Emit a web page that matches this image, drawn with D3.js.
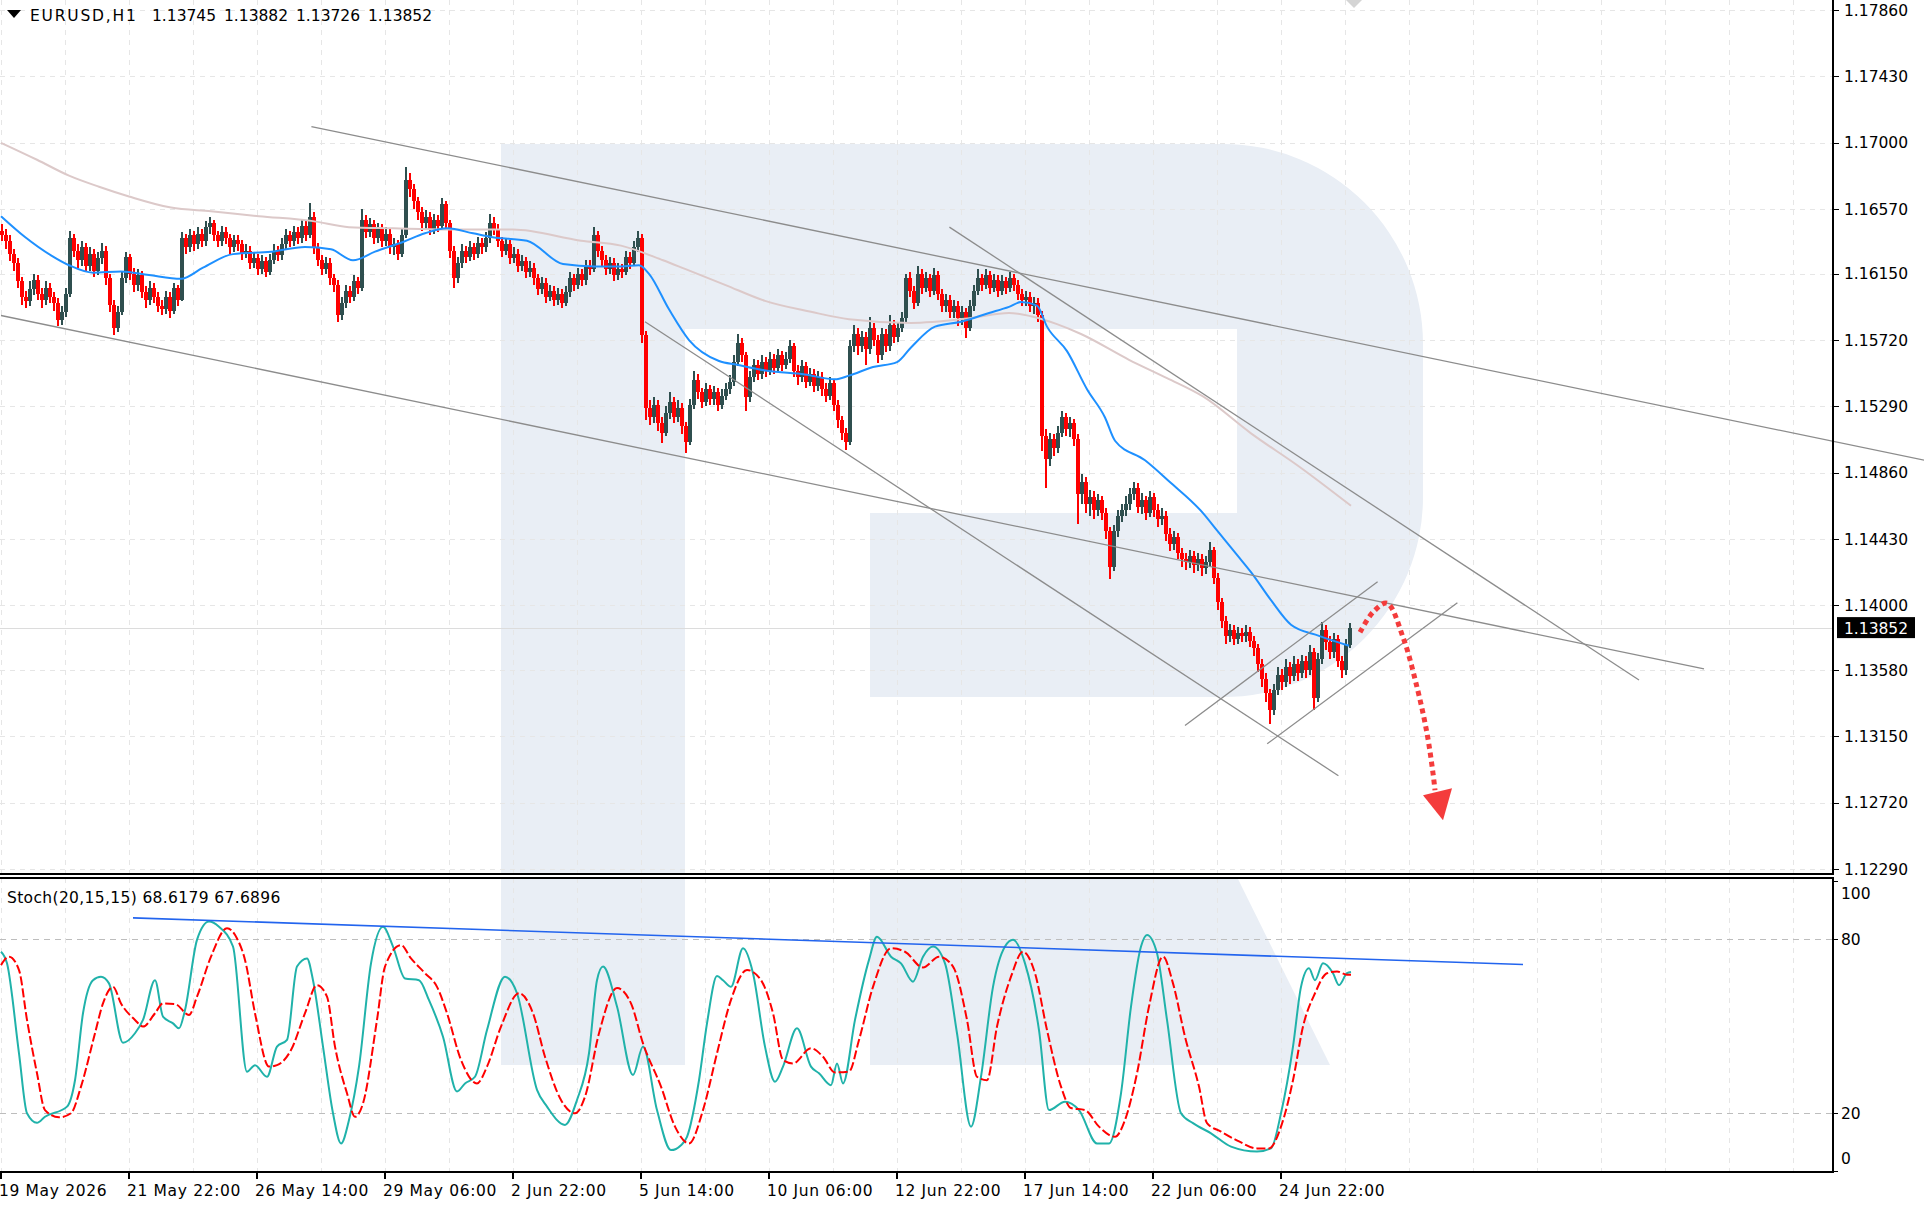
<!DOCTYPE html>
<html>
<head>
<meta charset="utf-8">
<script src="https://cdn.jsdelivr.net/npm/d3@7"></script>
<style>
html, body { margin: 0; padding: 0; background: #fff; }
svg { display: block; font-family: "DejaVu Sans", sans-serif; }
</style>
</head>
<body>
<div id="chart"></div>
<script>
// ---- data ----
var symbolName = 'EURUSD,H1';
var lastBarOHLC = [1.13745, 1.13882, 1.13726, 1.13852];
var stochTitle = 'Stoch(20,15,15) 68.6179 67.6896';
var lastPrice = 1.13852;

var priceTicks = [1.12290, 1.12720, 1.13150, 1.13580, 1.14000, 1.14430, 1.14860,
  1.15290, 1.15720, 1.16150, 1.16570, 1.17000, 1.17430, 1.17860];
var stochLevels = [20, 80];
var stochTickLabels = [0, 20, 80, 100];

var dateLabels = ['19 May 2026', '21 May 22:00', '26 May 14:00', '29 May 06:00', '2 Jun 22:00',
  '5 Jun 14:00', '10 Jun 06:00', '12 Jun 22:00', '17 Jun 14:00', '22 Jun 06:00', '24 Jun 22:00'];
var dateTickBars = [0, 64, 128, 192, 256, 320, 384, 448, 512, 576, 640];

// candles, two H1 bars each; open = previous close
var candleOpen0 = 1.1643;
var candleClose = [
  1.1640,1.1636,1.1628,1.1622,1.1610,1.1600,1.1597,1.1605,1.1611,1.1602,
  1.1598,1.1606,1.1600,1.1596,1.1585,1.1590,1.1602,1.1638,1.1630,1.1624,
  1.1632,1.1620,1.1628,1.1617,1.1625,1.1630,1.1612,1.1595,1.1580,1.1590,
  1.1612,1.1626,1.1615,1.1608,1.1614,1.1603,1.1598,1.1606,1.1600,1.1594,
  1.1592,1.1600,1.1591,1.1606,1.1598,1.1638,1.1632,1.1640,1.1634,1.1641,
  1.1636,1.1645,1.1648,1.1640,1.1636,1.1642,1.1638,1.1632,1.1637,1.1634,
  1.1628,1.1630,1.1622,1.1625,1.1618,1.1623,1.1616,1.1624,1.1630,1.1627,
  1.1634,1.1640,1.1636,1.1642,1.1638,1.1646,1.1640,1.1652,1.1632,1.1624,
  1.1618,1.1622,1.1612,1.1608,1.1588,1.1596,1.1604,1.1600,1.1610,1.1606,
  1.1650,1.1642,1.1647,1.1638,1.1644,1.1636,1.1641,1.1632,1.1634,1.1628,
  1.1640,1.1676,1.1670,1.1662,1.1655,1.1648,1.1652,1.1644,1.1650,1.1646,
  1.1660,1.1648,1.1630,1.1612,1.1622,1.1630,1.1626,1.1632,1.1628,1.1635,
  1.1632,1.1638,1.1648,1.1644,1.1636,1.1630,1.1634,1.1625,1.1628,1.1620,
  1.1623,1.1616,1.1619,1.1612,1.1605,1.1609,1.1600,1.1604,1.1598,1.1602,
  1.1596,1.1603,1.1612,1.1608,1.1615,1.1611,1.1620,1.1618,1.1640,1.1630,
  1.1624,1.1618,1.1622,1.1614,1.1618,1.1616,1.1626,1.1622,1.1632,1.1638,
  1.1575,1.1528,1.1522,1.1530,1.1518,1.1512,1.1525,1.1532,1.1522,1.1528,
  1.1516,1.1506,1.1530,1.1546,1.1538,1.1532,1.1540,1.1534,1.1538,1.1530,
  1.1536,1.1540,1.1545,1.1558,1.1570,1.1562,1.1535,1.1548,1.1556,1.1550,
  1.1558,1.1552,1.1560,1.1554,1.1562,1.1556,1.1560,1.1568,1.1552,1.1548,
  1.1555,1.1545,1.1550,1.1542,1.1548,1.1540,1.1536,1.1544,1.1530,1.1520,
  1.1512,1.1506,1.1568,1.1576,1.1568,1.1574,1.1566,1.1580,1.1572,1.1562,
  1.1576,1.1568,1.1582,1.1574,1.1580,1.1586,1.1612,1.1604,1.1596,1.1615,
  1.1606,1.1612,1.1604,1.1614,1.1602,1.1594,1.1598,1.1590,1.1594,1.1586,
  1.1590,1.1580,1.1594,1.1604,1.1612,1.1608,1.1614,1.1606,1.1611,1.1604,
  1.1610,1.1606,1.1612,1.1608,1.1602,1.1598,1.1600,1.1594,1.1596,1.1588,
  1.1510,1.1495,1.1508,1.1502,1.1512,1.1522,1.1514,1.1518,1.1508,1.1472,
  1.1480,1.1466,1.1470,1.1462,1.1468,1.1460,1.1448,1.1425,1.1448,1.1458,
  1.1462,1.1466,1.1472,1.1476,1.1464,1.1468,1.1460,1.1470,1.1462,1.1456,
  1.1458,1.1446,1.1440,1.1444,1.1434,1.1430,1.1428,1.1432,1.1426,1.1430,
  1.1424,1.1428,1.1436,1.1418,1.1402,1.1390,1.1380,1.1384,1.1378,1.1382,
  1.1380,1.1383,1.1377,1.1372,1.1362,1.1352,1.1343,1.1332,1.1345,1.1355,
  1.1350,1.1360,1.1354,1.1362,1.1356,1.1364,1.1358,1.1370,1.1340,1.1365,
  1.1384,1.1376,1.1370,1.1378,1.1364,1.1358,1.13745,1.13852
];
var candleHigh = [
  1.1647,1.1644,1.1640,1.1631,1.1625,1.1613,1.1604,1.1610,1.1615,1.1614,
  1.1606,1.1610,1.1609,1.1603,1.1599,1.1594,1.1606,1.1643,1.1641,1.1634,
  1.1636,1.1635,1.1632,1.1631,1.1629,1.1635,1.1633,1.1615,1.1598,1.1594,
  1.1616,1.1629,1.1628,1.1619,1.1618,1.1617,1.1607,1.1610,1.1609,1.1603,
  1.1598,1.1604,1.1603,1.1609,1.1608,1.1642,1.1641,1.1644,1.1643,1.1645,
  1.1644,1.1649,1.1652,1.1650,1.1643,1.1646,1.1645,1.1641,1.1640,1.1640,
  1.1637,1.1634,1.1633,1.1629,1.1628,1.1627,1.1626,1.1628,1.1634,1.1633,
  1.1638,1.1644,1.1643,1.1646,1.1645,1.1650,1.1649,1.1661,1.1655,1.1635,
  1.1627,1.1626,1.1625,1.1615,1.1611,1.1600,1.1608,1.1607,1.1614,1.1613,
  1.1657,1.1653,1.1651,1.1650,1.1648,1.1647,1.1645,1.1644,1.1638,1.1637,
  1.1644,1.1684,1.1680,1.1673,1.1665,1.1658,1.1656,1.1655,1.1654,1.1653,
  1.1664,1.1662,1.1650,1.1633,1.1626,1.1634,1.1633,1.1636,1.1635,1.1639,
  1.1638,1.1642,1.1654,1.1652,1.1647,1.1639,1.1638,1.1637,1.1632,1.1631,
  1.1627,1.1626,1.1623,1.1622,1.1615,1.1613,1.1612,1.1608,1.1607,1.1606,
  1.1605,1.1607,1.1616,1.1615,1.1619,1.1618,1.1624,1.1624,1.1645,1.1643,
  1.1633,1.1627,1.1626,1.1625,1.1622,1.1621,1.1630,1.1629,1.1636,1.1643,
  1.1641,1.1578,1.1533,1.1535,1.1533,1.1522,1.1529,1.1538,1.1535,1.1533,
  1.1531,1.1519,1.1534,1.1552,1.1550,1.1541,1.1544,1.1543,1.1542,1.1541,
  1.1540,1.1544,1.1549,1.1562,1.1576,1.1573,1.1564,1.1552,1.1560,1.1559,
  1.1562,1.1561,1.1564,1.1563,1.1566,1.1565,1.1564,1.1572,1.1570,1.1556,
  1.1559,1.1558,1.1554,1.1553,1.1552,1.1551,1.1544,1.1548,1.1547,1.1533,
  1.1523,1.1515,1.1572,1.1582,1.1580,1.1578,1.1577,1.1587,1.1583,1.1575,
  1.1580,1.1579,1.1588,1.1585,1.1584,1.1590,1.1615,1.1616,1.1607,1.1620,
  1.1618,1.1616,1.1615,1.1619,1.1617,1.1605,1.1602,1.1601,1.1598,1.1597,
  1.1594,1.1593,1.1598,1.1608,1.1618,1.1615,1.1618,1.1617,1.1615,1.1614,
  1.1614,1.1613,1.1616,1.1615,1.1611,1.1605,1.1604,1.1603,1.1600,1.1599,
  1.1591,1.1514,1.1512,1.1511,1.1516,1.1526,1.1525,1.1522,1.1521,1.1511,
  1.1485,1.1483,1.1475,1.1474,1.1472,1.1471,1.1463,1.1451,1.1452,1.1462,
  1.1466,1.1471,1.1476,1.1480,1.1479,1.1473,1.1471,1.1474,1.1473,1.1466,
  1.1463,1.1461,1.1450,1.1448,1.1447,1.1437,1.1434,1.1436,1.1435,1.1434,
  1.1433,1.1432,1.1441,1.1438,1.1421,1.1405,1.1393,1.1388,1.1387,1.1386,
  1.1385,1.1387,1.1386,1.1380,1.1375,1.1365,1.1356,1.1346,1.1349,1.1360,
  1.1359,1.1365,1.1363,1.1367,1.1365,1.1368,1.1367,1.1374,1.1372,1.1369,
  1.1389,1.1387,1.1380,1.1382,1.1381,1.1367,1.1378,1.13882
];
var candleLow = [
  1.1636,1.1631,1.1623,1.1617,1.1606,1.1595,1.1593,1.1594,1.1601,1.1598,
  1.1593,1.1595,1.1596,1.1591,1.1581,1.1582,1.1587,1.1600,1.1626,1.1619,
  1.1620,1.1616,1.1617,1.1613,1.1614,1.1621,1.1608,1.1590,1.1575,1.1577,
  1.1588,1.1609,1.1611,1.1603,1.1604,1.1599,1.1593,1.1595,1.1596,1.1590,
  1.1588,1.1589,1.1586,1.1589,1.1594,1.1597,1.1628,1.1629,1.1630,1.1631,
  1.1632,1.1633,1.1641,1.1636,1.1632,1.1633,1.1634,1.1628,1.1629,1.1630,
  1.1624,1.1625,1.1618,1.1619,1.1614,1.1615,1.1613,1.1614,1.1621,1.1623,
  1.1624,1.1631,1.1632,1.1633,1.1634,1.1635,1.1636,1.1638,1.1628,1.1620,
  1.1614,1.1615,1.1608,1.1603,1.1584,1.1585,1.1593,1.1596,1.1597,1.1602,
  1.1604,1.1638,1.1639,1.1634,1.1635,1.1632,1.1633,1.1628,1.1627,1.1624,
  1.1626,1.1638,1.1665,1.1657,1.1650,1.1643,1.1644,1.1640,1.1641,1.1642,
  1.1644,1.1644,1.1625,1.1606,1.1609,1.1619,1.1622,1.1623,1.1624,1.1625,
  1.1628,1.1629,1.1635,1.1640,1.1632,1.1626,1.1627,1.1621,1.1622,1.1616,
  1.1617,1.1612,1.1613,1.1608,1.1601,1.1602,1.1596,1.1597,1.1594,1.1595,
  1.1593,1.1594,1.1600,1.1604,1.1605,1.1607,1.1608,1.1614,1.1616,1.1626,
  1.1620,1.1614,1.1615,1.1610,1.1611,1.1612,1.1614,1.1618,1.1620,1.1629,
  1.1570,1.1520,1.1517,1.1518,1.1513,1.1505,1.1510,1.1521,1.1518,1.1519,
  1.1511,1.1499,1.1504,1.1527,1.1534,1.1528,1.1529,1.1530,1.1530,1.1526,
  1.1527,1.1533,1.1537,1.1542,1.1555,1.1558,1.1526,1.1532,1.1545,1.1546,
  1.1547,1.1548,1.1549,1.1550,1.1551,1.1552,1.1553,1.1557,1.1548,1.1543,
  1.1545,1.1541,1.1542,1.1538,1.1539,1.1536,1.1532,1.1533,1.1526,1.1515,
  1.1507,1.1501,1.1504,1.1564,1.1562,1.1564,1.1556,1.1563,1.1568,1.1557,
  1.1559,1.1564,1.1565,1.1570,1.1571,1.1577,1.1584,1.1600,1.1592,1.1594,
  1.1602,1.1603,1.1600,1.1601,1.1598,1.1590,1.1590,1.1586,1.1586,1.1581,
  1.1582,1.1573,1.1578,1.1591,1.1601,1.1604,1.1605,1.1602,1.1603,1.1600,
  1.1601,1.1602,1.1603,1.1604,1.1598,1.1594,1.1594,1.1590,1.1589,1.1584,
  1.1500,1.1476,1.1490,1.1497,1.1499,1.1509,1.1510,1.1509,1.1503,1.1453,
  1.1466,1.1460,1.1458,1.1456,1.1458,1.1455,1.1443,1.1417,1.1422,1.1444,
  1.1454,1.1458,1.1462,1.1468,1.1460,1.1459,1.1455,1.1457,1.1457,1.1451,
  1.1452,1.1442,1.1435,1.1436,1.1430,1.1425,1.1423,1.1424,1.1421,1.1422,
  1.1419,1.1420,1.1425,1.1414,1.1397,1.1385,1.1375,1.1376,1.1374,1.1375,
  1.1376,1.1376,1.1373,1.1367,1.1357,1.1347,1.1337,1.1323,1.1329,1.1342,
  1.1345,1.1347,1.1349,1.1351,1.1351,1.1353,1.1353,1.1355,1.1332,1.1337,
  1.1362,1.1371,1.1365,1.1366,1.1360,1.1353,1.1355,1.13726
];

// moving averages: [bar index, price]
var maFast = [[0,1.16523],[12,1.16388],[25,1.16269],[34,1.16205],[46,1.16157],[60,1.16165],
  [74,1.16141],[90,1.16117],[101,1.16189],[116,1.16277],[135,1.16293],[152,1.16324],
  [165,1.16308],[176,1.16237],[187,1.16293],[201,1.16356],[212,1.16412],[223,1.16444],
  [236,1.16412],[245,1.16388],[263,1.16364],[281,1.16213],[297,1.16197],[310,1.16197],
  [319,1.16205],[324,1.16149],[334,1.15919],[344,1.15720],[359,1.15584],[368,1.15560],
  [383,1.15521],[402,1.15497],[417,1.15465],[424,1.15489],[436,1.15545],[448,1.15577],
  [455,1.15672],[467,1.15807],[480,1.15839],[494,1.15895],[504,1.15935],[510,1.15966],
  [518,1.15943],[523,1.15807],[533,1.15648],[543,1.15401],[552,1.15218],[557,1.15067],
  [572,1.14940],[584,1.14804],[601,1.14598],[608,1.14486],[618,1.14327],[625,1.14215],
  [635,1.14033],[645,1.13874],[659,1.13802],[674,1.13738]];
var maSlow = [[0,1.16999],[18,1.16889],[34,1.16786],[49,1.16714],[64,1.16651],[85,1.16579],
  [105,1.16555],[129,1.16523],[156,1.16491],[174,1.16452],[196,1.16444],[223,1.16436],
  [256,1.16436],[290,1.16364],[310,1.16332],[331,1.16237],[342,1.16181],[362,1.16078],
  [382,1.15974],[405,1.15903],[424,1.15855],[455,1.15831],[485,1.15863],[504,1.15895],
  [516,1.15871],[528,1.15823],[540,1.15759],[564,1.15592],[583,1.15473],[601,1.15354],
  [625,1.15115],[649,1.14900],[675,1.14645]];

// stochastic %K and %D: [bar index, value]
var stochK = [[0,75.6],[3,71.6],[9,40.6],[13,19.9],[18,16.6],[22,18.7],[33,22.2],[37,31.3],
  [41,54.4],[46,65.8],[50,67],[54,64.7],[61,44.2],[67,47.5],[71,52.1],[77,65.8],[81,53.2],
  [86,50.9],[89,49.2],[92,55.5],[98,79.7],[104,86],[109,84.2],[116,77.4],[123,34.2],
  [127,36.5],[133,32.5],[138,42.9],[143,45.2],[148,70.5],[153,73.3],[156,65.8],[161,42.9],
  [166,19.9],[170,9.5],[174,17.6],[179,36],[185,71.6],[191,84.2],[196,77.4],[202,66.4],
  [209,65.8],[214,58.9],[221,46.3],[228,27.4],[232,30.2],[237,32.5],[243,48.6],[252,67],
  [258,61.3],[268,28],[273,22.2],[282,15.9],[288,24.5],[294,40.6],[298,65.8],[301,70.5],
  [308,56.7],[316,33.1],[321,42.9],[328,21],[335,7.2],[340,8.9],[343,11.8],[349,31.3],
  [353,50.9],[358,67.2],[361,65.8],[365,63.5],[371,76.8],[376,68.2],[382,42.9],[387,30.8],
  [391,36],[398,49.2],[405,36],[409,33.7],[415,29.6],[418,37.1],[421,30.2],[427,52.1],
  [434,72.8],[438,80.8],[445,73.9],[450,71.6],[456,65.3],[461,73.9],[466,77.4],[472,71.6],
  [478,47.5],[485,15.3],[490,32.5],[496,63.5],[502,77.4],[506,79.7],[512,71.6],[519,48.6],
  [524,21],[532,23.9],[539,21],[548,9.5],[554,9.5],[560,26.8],[565,56.7],[570,77.4],
  [573,81.4],[578,75.1],[583,52.1],[590,19.9],[596,16.5],[605,13],[615,8.4],[628,6.7],
  [635,7.8],[640,19.9],[646,42.9],[650,63.5],[654,69.9],[657,65.8],[661,71.6],[666,68.2],
  [669,64.1],[673,68.2],[675,68.6179]];
var stochD = [[0,71],[4,73.9],[9,69.3],[13,52.1],[18,33.7],[22,21],[29,18.5],[35,19.9],
  [40,29.1],[47,47.5],[51,57.8],[56,63.5],[60,57.8],[67,52.1],[71,49.8],[77,54.4],[81,57.8],
  [87,57.6],[94,53.8],[98,60.1],[105,73.9],[113,83.7],[118,80.2],[122,72.8],[127,54.4],
  [134,36],[138,36.5],[145,41.7],[152,54.4],[158,64.1],[163,60.1],[167,42.9],[173,26.8],
  [177,18.7],[181,23.3],[188,52.1],[192,70.5],[200,77.9],[205,73.3],[212,68.2],[218,63.5],
  [223,54.4],[230,38.3],[238,30.2],[243,36],[250,49.8],[259,61.3],[266,54.4],[272,39.4],
  [280,24.5],[287,19.9],[292,25.6],[299,47.5],[308,63.1],[315,57.8],[321,44],[330,29.1],
  [337,15.3],[344,9.5],[351,21],[358,40.6],[365,59],[373,69.3],[380,65.8],[386,54.4],
  [391,38.3],[396,37.1],[405,42.3],[411,39.4],[417,34],[424,34.3],[429,45.2],[436,63.5],
  [445,76.8],[452,75.6],[461,70.2],[469,73.9],[476,70.5],[483,52.1],[488,32.5],[493,31.3],
  [498,49.8],[505,67],[511,75.6],[517,68.2],[523,48.6],[530,29.1],[535,21.7],[542,21],
  [549,15.3],[557,11.8],[562,17.6],[568,33.7],[574,56.7],[581,73.9],[586,64.7],[592,46.3],
  [599,29.1],[603,16.5],[610,13.6],[619,10.2],[628,7.8],[634,7.8],[640,15.3],[646,31.3],
  [651,49.8],[657,61.3],[663,68.2],[668,68.8],[673,67.7],[675,67.6896]];

// drawn objects: [bar, price] end points
var priceLines = [
  {from: [155.2, 1.17104], to: [962, 1.14940], ray: true},
  {from: [0, 1.15879], to: [851.5, 1.13587]},
  {from: [474.2, 1.16452], to: [819, 1.13515]},
  {from: [322, 1.15839], to: [668.7, 1.12895]},
  {from: [592, 1.13221], to: [688.3, 1.14152]},
  {from: [633.1, 1.13102], to: [728.2, 1.14017]}
];
var stochLine = {from: [66, 87.3], to: [761, 71.2]};
var forecastPath = [[679.5,1.13825],[686,1.13955],[693,1.14013],[701,1.13793],
  [708,1.13469],[713,1.13170],[716,1.12911],[717,1.12801]];
var forecastHead = [[711,1.12768],[725.5,1.12814],[721,1.12606]];

// ---- layout ----
var W = 1924, H = 1211;
var axisX = 1833;
var mainBottom = 874, subTop = 878, subBottom = 1172;

var x = d3.scaleLinear().domain([0, 960]).range([1, 1921]);
var y = d3.scaleLinear().domain([1.12290, 1.17860]).range([869, 10]);
var ys = d3.scaleLinear().domain([0, 100]).range([1171, 881]);

var svg = d3.select('#chart').append('svg')
    .attr('width', W)
    .attr('height', H);

svg.append('rect').attr('width', W).attr('height', H).attr('fill', '#fff');

var defs = svg.append('defs');
defs.append('clipPath').attr('id', 'clipMain')
  .append('rect').attr('x', 0).attr('y', 0).attr('width', axisX).attr('height', mainBottom);
defs.append('clipPath').attr('id', 'clipMainWide')
  .append('rect').attr('x', 0).attr('y', 0).attr('width', W).attr('height', mainBottom);
defs.append('clipPath').attr('id', 'clipSub')
  .append('rect').attr('x', 0).attr('y', subTop + 1).attr('width', axisX).attr('height', subBottom - subTop - 2);

// watermark logo
var logoFill = '#e9eef5';
svg.append('path')
  .attr('fill', logoFill)
  .attr('fill-rule', 'evenodd')
  .attr('d', 'M501,144 H1223 A200,200 0 0 1 1423,344 V497 A200,200 0 0 1 1223,697 H870 V513 H685 V' + mainBottom +
    ' H501 Z M685,329 H1237 V513 H685 Z');
svg.append('rect').attr('fill', logoFill)
  .attr('x', 501).attr('y', subTop + 1).attr('width', 184).attr('height', 1065 - subTop - 1);
svg.append('path').attr('fill', logoFill)
  .attr('d', 'M870,' + (subTop + 1) + ' L1238,' + (subTop + 1) + ' L1330,1065 L870,1065 Z');

// grid
var gridColor = '#e6e6e6';
var vgrid = d3.range(0, 960, 32).filter(function(b) { return x(b) < axisX; });
svg.append('g').selectAll('line').data(vgrid).enter().append('line')
  .attr('x1', function(d) { return x(d) + 0.5; })
  .attr('x2', function(d) { return x(d) + 0.5; })
  .attr('y1', 0).attr('y2', mainBottom)
  .attr('stroke', gridColor).attr('stroke-dasharray', '5,5');
svg.append('g').selectAll('line').data(vgrid).enter().append('line')
  .attr('x1', function(d) { return x(d) + 0.5; })
  .attr('x2', function(d) { return x(d) + 0.5; })
  .attr('y1', subTop).attr('y2', subBottom)
  .attr('stroke', gridColor).attr('stroke-dasharray', '5,5');
svg.append('g').selectAll('line').data(priceTicks).enter().append('line')
  .attr('x1', 0).attr('x2', axisX)
  .attr('y1', function(d) { return Math.round(y(d)) + 0.5; })
  .attr('y2', function(d) { return Math.round(y(d)) + 0.5; })
  .attr('stroke', gridColor).attr('stroke-dasharray', '5,5');

// bid line
svg.append('line')
  .attr('x1', 0).attr('x2', axisX)
  .attr('y1', Math.round(y(lastPrice)) + 0.5).attr('y2', Math.round(y(lastPrice)) + 0.5)
  .attr('stroke', '#dcdcdc');

// candles
var candles = candleClose.map(function(c, j) {
  return {j: j, o: j ? candleClose[j - 1] : candleOpen0, h: candleHigh[j], l: candleLow[j], c: c};
});
var bullColor = '#2f4f4f', bearColor = '#ff0000';
var gCandles = svg.append('g').attr('clip-path', 'url(#clipMain)').attr('shape-rendering', 'crispEdges');
gCandles.selectAll('rect.wick').data(candles).enter().append('rect')
  .attr('class', 'wick')
  .attr('x', function(d) { return x(2 * d.j); })
  .attr('width', 2)
  .attr('y', function(d) { return y(d.h); })
  .attr('height', function(d) { return Math.max(1, y(d.l) - y(d.h)); })
  .attr('fill', function(d) { return d.c >= d.o ? bullColor : bearColor; });
gCandles.selectAll('rect.body').data(candles).enter().append('rect')
  .attr('class', 'body')
  .attr('x', function(d) { return x(2 * d.j) - 1; })
  .attr('width', 4)
  .attr('y', function(d) { return y(Math.max(d.o, d.c)); })
  .attr('height', function(d) { return Math.max(1.5, Math.abs(y(d.o) - y(d.c))); })
  .attr('fill', function(d) { return d.c >= d.o ? bullColor : bearColor; });

// moving averages
var priceLine = d3.line()
  .x(function(d) { return x(d[0]); })
  .y(function(d) { return y(d[1]); })
  .curve(d3.curveMonotoneX);
var gMa = svg.append('g').attr('clip-path', 'url(#clipMain)').attr('fill', 'none');
gMa.append('path').datum(maSlow).attr('d', priceLine)
  .attr('stroke', '#dcc9c9').attr('stroke-width', 2);
gMa.append('path').datum(maFast).attr('d', priceLine)
  .attr('stroke', '#1e90ff').attr('stroke-width', 2);

// trend lines
var gObj = svg.append('g').attr('clip-path', 'url(#clipMainWide)');
gObj.selectAll('line').data(priceLines).enter().append('line')
  .attr('x1', function(d) { return x(d.from[0]); })
  .attr('y1', function(d) { return y(d.from[1]); })
  .attr('x2', function(d) {
    if (!d.ray) return x(d.to[0]);
    return x(d.to[0]) + (x(d.to[0]) - x(d.from[0])) * 3;
  })
  .attr('y2', function(d) {
    if (!d.ray) return y(d.to[1]);
    return y(d.to[1]) + (y(d.to[1]) - y(d.from[1])) * 3;
  })
  .attr('stroke', '#8c8c8c').attr('stroke-width', 1.3);

// forecast arrow
gObj.append('path').datum(forecastPath)
  .attr('d', d3.line()
    .x(function(d) { return x(d[0]); })
    .y(function(d) { return y(d[1]); })
    .curve(d3.curveCatmullRom))
  .attr('fill', 'none').attr('stroke', '#f43c3c').attr('stroke-width', 5)
  .attr('stroke-dasharray', '5,4');
gObj.append('path').datum(forecastHead)
  .attr('d', function(d) {
    return 'M' + d.map(function(p) { return x(p[0]) + ',' + y(p[1]); }).join('L') + 'Z';
  })
  .attr('fill', '#f43c3c');

// chart shift marker
svg.append('path').attr('d', 'M1346,0 L1362,0 L1354,8 Z').attr('fill', '#d4d4d4');

// stochastic panel
svg.append('g').selectAll('line').data(stochLevels).enter().append('line')
  .attr('x1', 0).attr('x2', axisX)
  .attr('y1', function(d) { return Math.round(ys(d)) + 0.5; })
  .attr('y2', function(d) { return Math.round(ys(d)) + 0.5; })
  .attr('stroke', '#bdbdbd').attr('stroke-width', 1.2).attr('stroke-dasharray', '6,5');

var stochPath = d3.line()
  .x(function(d) { return x(d[0]); })
  .y(function(d) { return ys(d[1]); })
  .curve(d3.curveMonotoneX);
var gSub = svg.append('g').attr('clip-path', 'url(#clipSub)').attr('fill', 'none');
gSub.append('path').datum(stochK).attr('d', stochPath)
  .attr('stroke', '#20b2aa').attr('stroke-width', 2);
gSub.append('path').datum(stochD).attr('d', stochPath)
  .attr('stroke', '#ff0000').attr('stroke-width', 2).attr('stroke-dasharray', '9,3');
gSub.append('line')
  .attr('x1', x(stochLine.from[0])).attr('y1', ys(stochLine.from[1]))
  .attr('x2', x(stochLine.to[0])).attr('y2', ys(stochLine.to[1]))
  .attr('stroke', '#2264ee').attr('stroke-width', 1.6);

// frames and axes
var frame = svg.append('g').attr('stroke', '#000').attr('shape-rendering', 'crispEdges');
frame.append('line').attr('x1', axisX).attr('x2', axisX).attr('y1', 0).attr('y2', mainBottom + 1).attr('stroke-width', 2);
frame.append('line').attr('x1', 0).attr('x2', axisX + 1).attr('y1', mainBottom).attr('y2', mainBottom).attr('stroke-width', 2);
frame.append('line').attr('x1', 0).attr('x2', axisX + 1).attr('y1', subTop).attr('y2', subTop).attr('stroke-width', 2);
frame.append('line').attr('x1', axisX).attr('x2', axisX).attr('y1', subTop).attr('y2', subBottom + 1).attr('stroke-width', 2);
frame.append('line').attr('x1', 0).attr('x2', axisX + 1).attr('y1', subBottom).attr('y2', subBottom).attr('stroke-width', 2);

frame.selectAll('line.pt').data(priceTicks).enter().append('line')
  .attr('class', 'pt')
  .attr('x1', axisX).attr('x2', axisX + 6)
  .attr('y1', function(d) { return Math.round(y(d)); })
  .attr('y2', function(d) { return Math.round(y(d)); });
frame.selectAll('line.st').data(stochTickLabels).enter().append('line')
  .attr('class', 'st')
  .attr('x1', axisX).attr('x2', axisX + 5)
  .attr('y1', function(d) { return Math.round(ys(d)); })
  .attr('y2', function(d) { return Math.round(ys(d)); });
frame.selectAll('line.dt').data(dateTickBars).enter().append('line')
  .attr('class', 'dt')
  .attr('x1', function(d) { return x(d); }).attr('x2', function(d) { return x(d); })
  .attr('y1', subBottom).attr('y2', subBottom + 7).attr('stroke-width', 2);

var fontSize = 15.5;
svg.append('g').selectAll('text').data(priceTicks).enter().append('text')
  .attr('x', axisX + 11)
  .attr('y', function(d) { return y(d); })
  .attr('dy', '0.36em')
  .attr('font-size', fontSize)
  .attr('fill', '#000')
  .text(function(d) { return d.toFixed(5); });

var bidY = y(lastPrice);
svg.append('rect').attr('x', axisX + 4).attr('y', bidY - 11).attr('width', 78).attr('height', 21).attr('fill', '#000');
svg.append('text').attr('x', axisX + 11).attr('y', bidY).attr('dy', '0.36em')
  .attr('font-size', fontSize).attr('fill', '#fff').text(lastPrice.toFixed(5));

var stochLabelY = {100: 893, 80: 939, 20: 1113, 0: 1158};
svg.append('g').selectAll('text').data(stochTickLabels).enter().append('text')
  .attr('x', axisX + 8)
  .attr('y', function(d) { return stochLabelY[d]; })
  .attr('dy', '0.36em')
  .attr('font-size', fontSize)
  .text(function(d) { return d; });

svg.append('g').selectAll('text').data(dateTickBars).enter().append('text')
  .attr('x', function(d) { return x(d) - 2; })
  .attr('y', 1190)
  .attr('dy', '0.36em')
  .attr('font-size', fontSize)
  .attr('letter-spacing', 0.65)
  .text(function(d, k) { return dateLabels[k]; });

// titles
svg.append('path').attr('d', 'M7,10 L21,10 L14,18 Z').attr('fill', '#000');
svg.append('text').attr('x', 30).attr('y', 15).attr('dy', '0.36em')
  .attr('font-size', fontSize).attr('letter-spacing', 1.8).text(symbolName);
svg.append('g').selectAll('text').data(lastBarOHLC).enter().append('text')
  .attr('x', function(d, k) { return 152 + k * 72; })
  .attr('y', 15).attr('dy', '0.36em')
  .attr('font-size', fontSize)
  .text(function(d) { return d.toFixed(5); });
svg.append('text').attr('x', 7).attr('y', 897).attr('dy', '0.36em')
  .attr('font-size', fontSize).attr('letter-spacing', 0.35).text(stochTitle);
</script>
</body>
</html>
